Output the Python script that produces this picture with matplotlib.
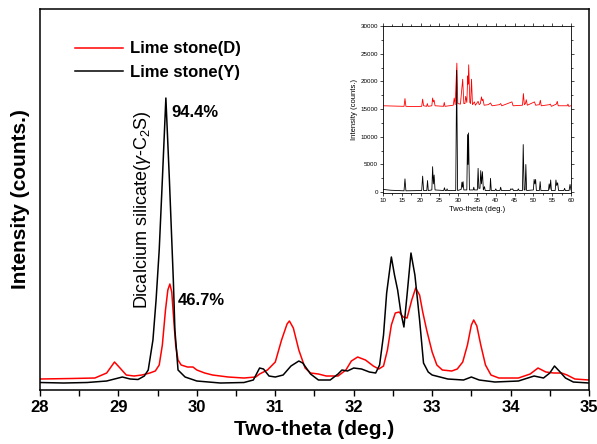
import matplotlib
matplotlib.use('Agg')
import matplotlib.pyplot as plt
from matplotlib.ticker import MultipleLocator

plt.rcParams['font.family'] = ['Liberation Sans', 'DejaVu Sans']
plt.rcParams['mathtext.fontset'] = 'custom'
plt.rcParams['mathtext.rm'] = 'Liberation Sans'
plt.rcParams['mathtext.it'] = 'Liberation Sans:italic'

# main plot, 28-35 deg (intensity in arbitrary units)
d_theta = [28.0, 28.4, 28.7, 28.85, 28.95, 29.02, 29.1, 29.2, 29.3, 29.4, 29.47,
           29.52, 29.56, 29.6, 29.63, 29.656, 29.68, 29.71, 29.73, 29.76, 29.8,
           29.88, 29.95, 30.0, 30.1, 30.2, 30.4, 30.6, 30.75, 30.8, 30.9, 31.0,
           31.08, 31.15, 31.18, 31.23, 31.3, 31.38, 31.45, 31.55, 31.65, 31.8,
           31.9, 31.97, 32.05, 32.15, 32.25, 32.32, 32.38, 32.43, 32.48, 32.53,
           32.58, 32.63, 32.68, 32.74, 32.79, 32.84, 32.88, 32.93, 33.0, 33.06,
           33.13, 33.25, 33.32, 33.39, 33.45, 33.5, 33.53, 33.57, 33.62, 33.68,
           33.75, 33.85, 34.1, 34.25, 34.35, 34.45, 34.55, 34.65, 34.72, 34.82,
           35.0]
d_int = [11, 11.5, 12, 17, 28, 22, 15, 14, 15, 17, 19,
         25, 45, 80, 100, 106, 98, 65, 45, 30, 25,
         23, 23, 20, 17, 15, 13, 12, 13, 16, 20, 28,
         50, 66, 69, 62, 40, 22, 17, 16, 14, 14,
         20, 29, 33, 30, 24, 21, 24, 40, 65, 77,
         78, 73, 72, 90, 102, 95, 78, 60, 38, 25,
         20, 19, 21, 28, 45, 65, 70, 64, 45, 25,
         15, 12, 12, 16, 22, 18, 17, 17, 15, 11,
         10]

y_theta = [28.0, 28.3, 28.6, 28.85, 29.0, 29.05, 29.15, 29.25, 29.33, 29.38,
           29.44, 29.48, 29.52, 29.56, 29.605, 29.65, 29.7, 29.72, 29.76,
           29.85, 30.0, 30.3, 30.6, 30.72, 30.8, 30.85, 30.92, 31.0, 31.1,
           31.2, 31.3, 31.35, 31.45, 31.55, 31.7, 31.8, 31.85, 31.92, 32.0,
           32.1, 32.2, 32.28, 32.33, 32.38, 32.42, 32.48, 32.52, 32.56, 32.6,
           32.64, 32.68, 32.73, 32.78, 32.84, 32.89, 32.95, 33.0, 33.2, 33.4,
           33.5, 33.6, 33.8, 34.1, 34.3, 34.42, 34.5, 34.56, 34.62, 34.7,
           34.8, 35.0]
y_int = [7.5, 7, 7.5, 9, 12, 13, 11, 10.5, 14, 20,
         50, 90, 140, 210, 292, 210, 110, 60, 20,
         13, 9, 7, 7.5, 10, 22, 21, 14, 13, 15,
         24, 29, 27, 16, 10, 10, 16, 20, 19, 22,
         21, 18, 17, 25, 55, 97, 133, 115, 100, 78,
         63, 95, 137, 115, 70, 27, 18, 15, 11, 10,
         13, 10, 8, 9, 14, 12, 17, 24, 19, 12,
         8, 7]

# inset, full scan 10-60 deg (counts)
in_d_theta = [10, 15.6, 15.85, 16.1, 18, 20.3, 20.55, 20.8, 21.6, 21.8, 22.0,
              23.0, 23.2, 23.4, 23.6, 23.85, 26.1, 26.3, 26.5, 28.7, 28.95,
              29.2, 29.65, 29.9, 30.6, 31.2, 31.5, 31.8, 32.0, 32.3, 32.55,
              32.65, 32.8, 33.1, 33.3, 33.55, 33.8, 34.3, 34.6, 35.3, 35.6,
              35.9, 36.2, 36.4, 36.6, 36.9, 38.0, 38.6, 39.0, 41.0, 41.3, 41.6,
              44.3, 44.6, 47.1, 47.35, 47.6, 47.9, 48.1, 48.4, 50.3, 50.6,
              51.6, 51.85, 52.1, 54.3, 54.5, 54.8, 56.1, 56.35, 56.6, 59.0,
              59.2, 59.4, 60]
in_d_counts = [15600, 15500, 16900, 15500, 15450, 15500, 16800, 15600, 15500,
               16000, 15500, 15600, 17000, 16300, 16600, 15600, 15500, 16200,
               15500, 15700, 17000, 15800, 23300, 16000, 15900, 20400, 16000,
               16000, 17300, 16200, 21000, 19500, 23000, 16200, 16000, 20400,
               15800, 16300, 15700, 16400, 15800, 16000, 17200, 16500, 16800,
               15700, 15800, 16100, 15600, 15800, 16000, 15600, 16300, 15600,
               15700, 17800, 15800, 16000, 16700, 15700, 16300, 15700, 15800,
               16600, 15600, 15800, 15900, 15500, 15900, 16400, 15600, 15600,
               15900, 15500, 15600]

in_y_theta = [10, 12, 15.6, 15.85, 16.1, 20.3, 20.55, 20.8, 21.65, 21.85, 22.05,
              23.0, 23.2, 23.4, 23.6, 23.85, 26.15, 26.35, 26.55, 26.9, 27.05,
              27.2, 29.35, 29.6, 29.85, 30.8, 31.0, 31.15, 31.3, 31.5, 32.3,
              32.5, 32.62, 32.75, 33.0, 34.0, 34.15, 34.3, 35.1, 35.3, 35.5,
              35.8, 36.0, 36.2, 36.45, 36.7, 37.0, 37.2, 38.45, 38.6, 38.8,
              39.8, 40.0, 40.2, 41.1, 41.3, 41.5, 43.8, 44.0, 44.3, 44.5, 44.7,
              45.8, 46.0, 46.2, 47.1, 47.3, 47.55, 47.8, 48.0, 48.2, 50.0,
              50.2, 50.4, 50.6, 50.8, 51.6, 51.8, 52.0, 54.0, 54.2, 54.4, 54.6,
              54.8, 55.8, 56.0, 56.2, 56.45, 56.7, 58.1, 58.3, 58.5, 59.5,
              59.75, 60]
in_y_counts = [500, 350, 250, 2400, 250, 300, 2900, 300, 300, 2100, 300,
               400, 4600, 1500, 3100, 400, 300, 800, 300, 300, 600,
               300, 300, 22000, 300, 500, 1800, 900, 1900, 400, 400,
               10400, 5000, 10700, 400, 400, 900, 400, 400, 4300, 700,
               700, 3900, 1500, 3700, 400, 1000, 300, 300, 2500, 300,
               300, 600, 300, 300, 900, 300, 300, 600, 500, 600, 300,
               300, 600, 300, 300, 8600, 400, 400, 5000, 300, 400,
               2300, 1500, 2300, 300, 300, 1900, 300, 300, 1500, 500, 2200,
               300, 300, 2200, 1200, 1700, 300, 300, 700, 300, 300,
               1400, 400]

fig = plt.figure(figsize=(5.97, 4.44), dpi=100)
ax = fig.add_axes([0.067, 0.1216, 0.9196, 0.8581])

ax.plot(d_theta, d_int, color='red', linewidth=1.1, label='Lime stone(D)')
ax.plot(y_theta, y_int, color='black', linewidth=1.1, label='Lime stone(Y)')

ax.set_xlim(28, 35)
ax.set_ylim(0, 381)
ax.xaxis.set_major_locator(MultipleLocator(1))
ax.xaxis.set_minor_locator(MultipleLocator(0.5))
ax.tick_params(axis='x', which='both', direction='out', length=4, width=1)
ax.tick_params(axis='x', which='major', labelsize=12, pad=3)
ax.tick_params(axis='y', which='both', left=False, labelleft=False)
for lab in ax.get_xticklabels():
    lab.set_fontweight('bold')
for sp in ax.spines.values():
    sp.set_linewidth(1.1)

ax.set_xlabel('Two-theta (deg.)', fontsize=15, fontweight='bold', labelpad=4)
ax.set_ylabel('Intensity (counts.)', fontsize=15, fontweight='bold', labelpad=7)

ax.legend(loc='upper left', bbox_to_anchor=(0.0638, 0.915), frameon=False,
          borderpad=0, borderaxespad=0, handlelength=2.9, handletextpad=0.4,
          labelspacing=0.5, prop={'size': 12, 'weight': 'bold'})

ax.text(29.67, 278, '94.4%', fontsize=12, fontweight='bold', ha='left', va='center')
ax.text(29.76, 90, '46.7%', fontsize=12, fontweight='bold', ha='left', va='center')
ax.text(29.31, 180, r'Dicalcium silicate($\gamma$-C$_2$S)', fontsize=13,
        rotation=90, ha='center', va='center')

# inset with full pattern
axi = fig.add_axes([0.6415, 0.5653, 0.3149, 0.3761])
axi.plot(in_d_theta, in_d_counts, color='red', linewidth=0.6)
axi.plot(in_y_theta, in_y_counts, color='black', linewidth=0.6)
axi.set_xlim(10, 60)
axi.set_ylim(-150, 30000)
axi.xaxis.set_major_locator(MultipleLocator(5))
axi.xaxis.set_minor_locator(MultipleLocator(2.5))
axi.yaxis.set_major_locator(MultipleLocator(5000))
axi.yaxis.set_minor_locator(MultipleLocator(2500))
axi.tick_params(which='both', direction='out', width=0.5, labelsize=4.5, pad=1.5,
                top=True, right=True)
axi.tick_params(which='major', length=2)
axi.tick_params(which='minor', length=1.2)
for sp in axi.spines.values():
    sp.set_linewidth(0.6)
axi.set_xlabel('Two-theta (deg.)', fontsize=5.5, labelpad=2)
axi.set_ylabel('Intensity (counts.)', fontsize=5.5, labelpad=2)

fig.savefig('out.png', dpi=100)
